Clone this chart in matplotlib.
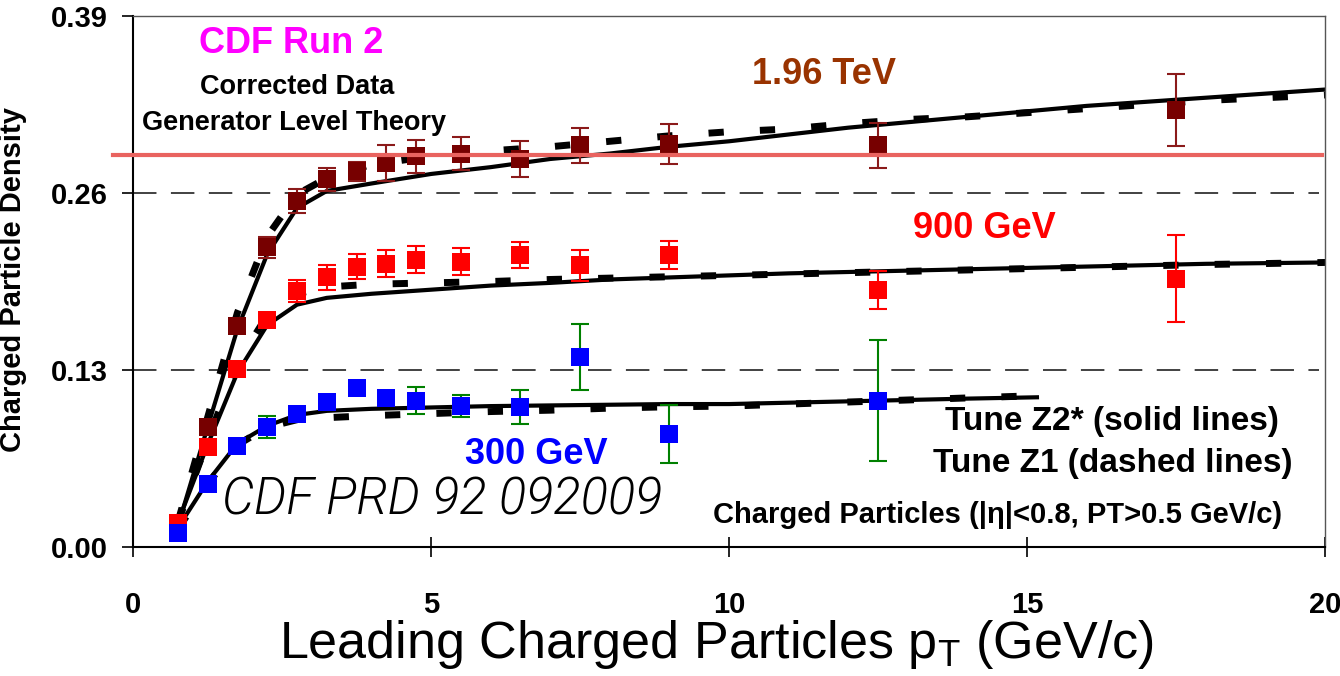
## charged particle density vs leading pT, CDF Run 2 with tune curves

import matplotlib
matplotlib.use('Agg')
import matplotlib.pyplot as plt

## DATA
pt_bins = [0.75, 1.25, 1.75, 2.25, 2.75, 3.25, 3.75, 4.25, 4.75, 5.5, 6.5, 7.5, 9.0, 12.5, 17.5]

tev196 = [0.017, 0.088, 0.162, 0.220, 0.254, 0.270, 0.276, 0.282, 0.287, 0.289, 0.285, 0.295, 0.296, 0.295, 0.321]
tev196_err = [0.002, 0.003, 0.004, 0.008, 0.009, 0.0085, 0.007, 0.013, 0.012, 0.012, 0.013, 0.013, 0.0145, 0.0165, 0.0265]

gev900 = [0.018, 0.0735, 0.1307, 0.1667, 0.188, 0.198, 0.206, 0.208, 0.211, 0.2095, 0.2145, 0.207, 0.2145, 0.1888, 0.197]
gev900_err = [0.002, 0.003, 0.004, 0.005, 0.008, 0.009, 0.009, 0.0098, 0.010, 0.010, 0.0095, 0.0115, 0.010, 0.0142, 0.032]

pt_bins_300 = pt_bins[:14]
gev300 = [0.010, 0.046, 0.0744, 0.0884, 0.0975, 0.1067, 0.117, 0.1097, 0.1075, 0.1038, 0.103, 0.1395, 0.083, 0.1075]
gev300_err = [0.002, 0.002, 0.003, 0.008, 0.005, 0.004, 0.004, 0.005, 0.0098, 0.008, 0.0125, 0.024, 0.0214, 0.0445]

# theory curves (Tune Z2* solid, Tune Z1 dashed)
curve_x = [0.75, 1.25, 1.75, 2.25, 2.75, 3.25, 4, 5, 6, 7, 8, 9, 10, 11, 12, 13, 14, 15, 16, 17, 18, 19, 20]
z2_196 = [0.015, 0.088, 0.160, 0.215, 0.249, 0.2615, 0.267, 0.274, 0.279, 0.285, 0.289, 0.294, 0.298, 0.303,
          0.308, 0.312, 0.316, 0.320, 0.324, 0.327, 0.330, 0.333, 0.336]
z1_196 = [0.018, 0.095, 0.172, 0.228, 0.259, 0.271, 0.281, 0.287, 0.291, 0.294, 0.298, 0.302, 0.305, 0.307,
          0.311, 0.314, 0.316, 0.319, 0.322, 0.325, 0.328, 0.330, 0.332]
z2_900 = [0.018, 0.075, 0.128, 0.163, 0.178, 0.183, 0.186, 0.189, 0.192, 0.194, 0.1965, 0.198, 0.1995, 0.201,
          0.202, 0.203, 0.204, 0.205, 0.206, 0.207, 0.208, 0.2085, 0.209]
z1_900 = [0.018, 0.078, 0.135, 0.170, 0.186, 0.191, 0.193, 0.194, 0.195, 0.1965, 0.1975, 0.1985, 0.1995, 0.2005,
          0.2015, 0.2025, 0.2035, 0.2045, 0.2055, 0.2065, 0.2075, 0.2082, 0.209]

curve300_x = [0.75, 1.25, 1.75, 2.25, 2.75, 3.25, 4, 5, 6, 7, 8, 9, 10, 11, 12, 13, 14, 15.2]
z2_300 = [0.014, 0.048, 0.076, 0.089, 0.097, 0.100, 0.1015, 0.1025, 0.1035, 0.104, 0.1045, 0.105, 0.105,
          0.106, 0.107, 0.108, 0.109, 0.110]
z1_300 = [0.013, 0.046, 0.075, 0.088, 0.0935, 0.095, 0.0965, 0.098, 0.0995, 0.1005, 0.102, 0.103, 0.1035,
          0.105, 0.1065, 0.108, 0.1095, 0.1112]

ref_level = 0.288
grid_levels = [0.13, 0.26]
y_ticks = [0.00, 0.13, 0.26, 0.39]
x_ticks = [0, 5, 10, 15, 20]


plt.rcParams['font.family'] = ['Liberation Sans', 'DejaVu Sans']
plt.rcParams['mathtext.fontset'] = 'custom'
plt.rcParams['mathtext.rm'] = 'Liberation Sans'

fig = plt.figure(figsize=(13.4, 6.76), dpi=100)
ax = fig.add_axes([0.0993, 0.1908, 0.8896, 0.7855])
ax.set_xlim(0, 20)
ax.set_ylim(0, 0.39)

## dashed reference lines
for g in grid_levels:
    ax.plot([0, 19.9], [g, g], color='#333333', lw=1.3, dashes=(13, 8), zorder=1)

## theory curves
for xs, ys in [(curve_x, z2_196), (curve_x, z2_900), (curve300_x, z2_300)]:
    ax.plot(xs, ys, color='black', lw=3.0, solid_capstyle='butt', zorder=2)
for xs, ys in [(curve_x, z1_196), (curve_x, z1_900), (curve300_x, z1_300)]:
    ax.plot(xs, ys, color='black', lw=5.0, dashes=(2.2, 5.2), zorder=2)

## data points: error bars first, then the squares on top
ms = 12.5
series = [
    (pt_bins, tev196, tev196_err, '#770000', '#8B1A1A'),
    (pt_bins, gev900, gev900_err, '#FF0000', '#FF0000'),
    (pt_bins_300, gev300, gev300_err, '#0000FF', '#008000'),
]
z = 3
for xs, ys, errs, mcol, ecol in series:
    ax.errorbar(xs, ys, yerr=errs, fmt='none', ecolor=ecol, elinewidth=1.5, capsize=6.5, capthick=1.5, zorder=z)
    ax.plot(xs, ys, 's', color=mcol, ms=ms, mew=0, zorder=z + 0.5)
    z += 1

## red horizontal line, starts left of the axis
ax.plot([-0.34, 19.95], [ref_level, ref_level], color='#E9635F', lw=3.0, clip_on=False, zorder=7)

## texts
ax.text(2.66, 0.370, 'CDF Run 2', color='#FF00FF', fontsize=26, fontweight='bold', ha='center', va='center')
ax.text(2.75, 0.338, 'Corrected Data', color='black', fontsize=19.5, fontweight='bold', ha='center', va='center')
ax.text(2.70, 0.3114, 'Generator Level Theory', color='black', fontsize=19.5, fontweight='bold',
        ha='center', va='center')
ax.text(11.59, 0.3467, '1.96 TeV', color='#993300', fontsize=26, fontweight='bold', ha='center', va='center')
ax.text(14.29, 0.2343, '900 GeV', color='#FF0000', fontsize=26, fontweight='bold', ha='center', va='center')
ax.text(6.77, 0.0676, '300 GeV', color='#0000FF', fontsize=26, fontweight='bold', ha='center', va='center')
ax.text(16.43, 0.0925, 'Tune Z2* (solid lines)', color='black', fontsize=24, fontweight='bold',
        ha='center', va='center')
ax.text(16.43, 0.0617, 'Tune Z1 (dashed lines)', color='black', fontsize=24, fontweight='bold',
        ha='center', va='center')
ax.text(14.5, 0.0235, 'Charged Particles (|\u03b7|<0.8, PT>0.5 GeV/c)', color='black', fontsize=21,
        fontweight='bold', ha='center', va='center')
ax.text(5.19, 0.0345, 'CDF PRD 92 092009', color='black', fontsize=36.5, fontweight=300, style='italic',
        family=['Roboto', 'DejaVu Sans'], ha='center', va='center')

## axes styling
ax.set_xticks(x_ticks)
ax.set_yticks(y_ticks)
ax.set_yticklabels(['%.2f' % v for v in y_ticks])
ax.tick_params(axis='y', direction='out', length=8, width=1.2, labelsize=21, pad=10)
ax.tick_params(axis='x', direction='inout', length=15, width=1.2, labelsize=21, pad=24)
for lab in ax.get_xticklabels() + ax.get_yticklabels():
    lab.set_fontweight('bold')

ax.spines['left'].set_linewidth(1.5)
ax.spines['bottom'].set_linewidth(1.5)
ax.spines['top'].set_color('#555555')
ax.spines['right'].set_color('#555555')
ax.spines['top'].set_linewidth(1.0)
ax.spines['right'].set_linewidth(1.0)

## x label placed by baseline so the subscript stays inside the picture
fig.text(716 / 1340, 0.026, 'Leading Charged Particles p$_{\\rm T}$ (GeV/c)', fontsize=37.5,
         ha='center', va='baseline')
ax.set_ylabel('Charged Particle Density', fontsize=21, fontweight='bold')
ax.yaxis.set_label_coords(-0.089, 0.503)

fig.savefig('out.png', dpi=100)
